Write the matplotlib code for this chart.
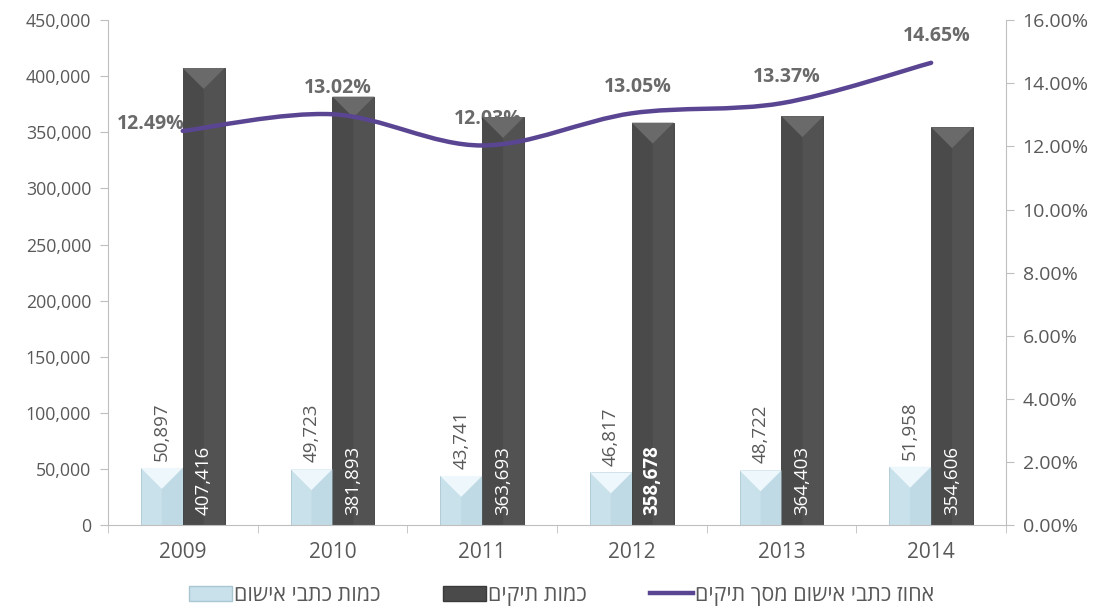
import numpy as np
import matplotlib
matplotlib.use("Agg")
import matplotlib.pyplot as plt
from matplotlib.patches import Polygon, Patch
from matplotlib.lines import Line2D
from matplotlib.path import Path
from matplotlib.patches import PathPatch
from matplotlib.ticker import FuncFormatter, MultipleLocator

plt.rcParams['font.family'] = ['Open Sans', 'DejaVu Sans']

years = ["2009", "2010", "2011", "2012", "2013", "2014"]
indictments = [50897, 49723, 43741, 46817, 48722, 51958]
cases = [407416, 381893, 363693, 358678, 364403, 354606]
pct = [12.49, 13.02, 12.03, 13.05, 13.37, 14.65]
legend_labels = ["כמות כתבי אישום", "כמות תיקים", "אחוז כתבי אישום מסך תיקים"]
bold_year = "2012"

grey_txt = "#595959"
spine_col = "#bfbfbf"
light_col = "#c9e1eb"
light_top = "#eef7fb"
dark_col = "#4a4a4a"
dark_top = "#6a6a6a"
line_col = "#5a4592"


def rtl(s):
    # matplotlib has no bidi, so flip Hebrew to visual order
    return s[::-1]


fig = plt.figure(figsize=(11.01, 6.13), dpi=100)
ax = fig.add_axes([0.098, 0.1436, 0.8157, 0.8234])
ax2 = ax.twinx()

x = np.arange(len(years))
w = 0.28

b1 = ax.bar(x - w / 2, indictments, w, color=light_col, edgecolor="#a9c6d3", linewidth=0.6, zorder=2)
b2 = ax.bar(x + w / 2, cases, w, color=dark_col, edgecolor="#3a3a3a", linewidth=0.6, zorder=2)

ax.set_xlim(-0.5, len(years) - 0.5)
ax.set_ylim(0, 450000)
ax2.set_ylim(0, 0.16)

# bevel tops on bars
fig.canvas.draw()
px_x = ax.transData.transform((1, 0))[0] - ax.transData.transform((0, 0))[0]
px_y = ax.transData.transform((0, 1))[1] - ax.transData.transform((0, 0))[1]
depth = (w / 2) * px_x / px_y
for bars, topc, sidec in [(b1, light_top, "#c0dae5"), (b2, dark_top, "#525252")]:
    for r in bars:
        x0 = r.get_x()
        x1 = x0 + r.get_width()
        h = r.get_height()
        xc = (x0 + x1) / 2
        d = min(depth, h / 2)
        ax.add_patch(Polygon([(xc, 0), (x1, 0), (x1, h), (xc, h - d)], closed=True,
                             facecolor=sidec, edgecolor="none", zorder=2.1))
        ax.add_patch(Polygon([(x0, h), (x1, h), (xc, h - d)], closed=True,
                             facecolor=topc, edgecolor="none", zorder=2.2))

# value labels
for i in range(len(years)):
    ax.annotate(f"{indictments[i]:,}", (x[i] - w / 2, indictments[i]), xytext=(0, 5),
                textcoords="offset points", rotation=90, ha="center", va="bottom",
                color=grey_txt, fontsize=13.5, zorder=3)
    ax.annotate(f"{cases[i]:,}", (x[i] + w / 2, 0), xytext=(0, 7),
                textcoords="offset points", rotation=90, ha="center", va="bottom",
                color="white", fontsize=13.5, zorder=3,
                fontweight="bold" if years[i] == bold_year else "normal")

# smoothed line (Catmull-Rom as bezier segments)
pts = np.column_stack([x, np.array(pct) / 100])
verts = [tuple(pts[0])]
codes = [Path.MOVETO]
n = len(pts)
for i in range(n - 1):
    p0 = pts[max(i - 1, 0)]
    p1 = pts[i]
    p2 = pts[i + 1]
    p3 = pts[min(i + 2, n - 1)]
    c1 = p1 + (p2 - p0) / 6
    c2 = p2 - (p3 - p1) / 6
    verts += [tuple(c1), tuple(c2), tuple(p2)]
    codes += [Path.CURVE4] * 3
ax2.add_patch(PathPatch(Path(verts, codes), facecolor="none", edgecolor=line_col,
                        linewidth=3.2, capstyle="round", zorder=4))

for i in range(len(years)):
    if i == 0:
        off, ha, va = (1, -2), "right", "bottom"
    else:
        off, ha, va = (4, 12), "center", "bottom"
    ax.annotate(f"{pct[i]:.2f}%", (x[i], pct[i] / 100), xycoords=ax2.transData,
                xytext=off, textcoords="offset points", ha=ha, va=va,
                color="#6a6a6a", fontsize=14, fontweight="bold", zorder=1.5)

# axes styling
for a in (ax, ax2):
    a.spines["top"].set_visible(False)
    for s in ("left", "right", "bottom"):
        a.spines[s].set_color(spine_col)
ax.spines["right"].set_visible(False)
ax2.spines["left"].set_visible(False)
ax2.spines["bottom"].set_visible(False)

ax.yaxis.set_major_locator(MultipleLocator(50000))
ax.yaxis.set_major_formatter(FuncFormatter(lambda v, p: f"{int(v):,}"))
ax2.yaxis.set_major_locator(MultipleLocator(0.02))
ax2.yaxis.set_major_formatter(FuncFormatter(lambda v, p: f"{v * 100:.2f}%"))

ax.set_xticks(x)
ax.set_xticklabels(years)
ax.set_xticks(np.arange(-0.5, len(years)), minor=True)
ax.tick_params(axis="x", which="major", length=0, pad=12, labelsize=15, labelcolor=grey_txt)
ax.tick_params(axis="x", which="minor", length=6, color=spine_col)
ax.tick_params(axis="y", length=6, color=spine_col, labelsize=12.8, labelcolor=grey_txt, pad=6)
ax2.tick_params(axis="y", length=6, color=spine_col, labelsize=14, labelcolor=grey_txt, pad=6)

handles = [
    Patch(facecolor=light_col, edgecolor="#a9c6d3"),
    Patch(facecolor=dark_col, edgecolor="#3a3a3a"),
    Line2D([0], [0], color=line_col, linewidth=3.2),
]
fig.legend(handles, [rtl(s) for s in legend_labels], loc="lower center",
           bbox_to_anchor=(0.51, -0.02), ncol=3, frameon=False, fontsize=15.5,
           labelcolor=grey_txt, handlelength=2.0, handletextpad=0.1, columnspacing=2.9)

fig.savefig("out.png", dpi=100)
